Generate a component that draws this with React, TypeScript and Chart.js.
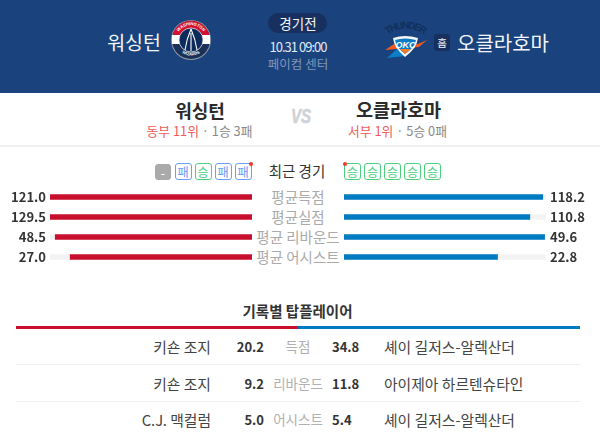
import React, { useEffect, useRef } from "react";
import { Chart, registerables } from "chart.js";

Chart.register(...registerables);

const FONT = "'Noto Sans CJK KR', 'Noto Sans', sans-serif";
const RED = "#c8102e";
const BLUE = "#007ac1";
const TRACK = "#f3f3f3";

const statLabels = ["평균득점", "평균실점", "평균 리바운드", "평균 어시스트"];
const awayValues = ["121.0", "129.5", "48.5", "27.0"];
const homeValues = ["118.2", "110.8", "49.6", "22.8"];
const awayBarPct = [100, 100, 97.4, 90];
const homeBarPct = [98.4, 92, 99.3, 76];
const trackPct = [100, 100, 100, 100];

const awayForm = ["-", "패", "승", "패", "패"];
const homeForm = ["승", "승", "승", "승", "승"];

const topStats = ["득점", "리바운드", "어시스트"];
const awayPlayers = ["키숀 조지", "키숀 조지", "C.J. 맥컬럼"];
const awayTop = ["20.2", "9.2", "5.0"];
const homeTop = ["34.8", "11.8", "5.4"];
const homePlayers = ["셰이 길저스-알렉산더", "아이제아 하르텐슈타인", "셰이 길저스-알렉산더"];

type TProps = {
  x: number; y: number; size: number; color: string; align?: "left" | "right" | "center";
  bold?: boolean; children: React.ReactNode; style?: React.CSSProperties;
};

function T({ x, y, size, color, align = "center", bold, children, style }: TProps) {
  const tx = align === "center" ? "-50%" : align === "right" ? "-100%" : "0";
  return (
    <div
      style={{
        position: "absolute", left: x, top: y, transform: `translate(${tx}, -50%)`,
        fontSize: size, color, fontWeight: bold ? 700 : 400, whiteSpace: "nowrap",
        lineHeight: 1.05, fontFamily: FONT, ...style,
      }}
    >
      {children}
    </div>
  );
}

function Box({ x, v, dot }: { x: number; v: string; dot?: boolean }) {
  const win = v === "승";
  const none = v === "-";
  const c = none ? "#aaaaaa" : win ? "#4cd07d" : "#6aa0f5";
  return (
    <div
      style={{
        position: "absolute", left: x, top: none ? 164 : 163, width: none ? 16 : 17, height: none ? 16 : 17, boxSizing: "border-box",
        border: `1px solid ${c}`, borderRadius: 3, background: none ? c : "#fff",
        color: none ? "#fff" : c, fontSize: 12.5, lineHeight: "15px", textAlign: "center", fontFamily: FONT,
      }}
    >
      {v}
      {dot ? (
        <span style={{ position: "absolute", top: -2, right: -2, width: 4, height: 4, borderRadius: 2, background: "#f0392b" }} />
      ) : null}
    </div>
  );
}

function BarChart({ values, pct, color, left, width, side }: { values: string[]; pct: number[]; color: string; left: number; width: number; side: "left" | "right" }) {
  const ref = useRef<HTMLCanvasElement>(null);
  useEffect(() => {
    const chart = new Chart(ref.current!, {
      type: "bar",
      data: {
        labels: statLabels,
        datasets: [
          { data: pct, backgroundColor: color, barThickness: 5, grouped: false, order: 1 },
          { data: trackPct, backgroundColor: TRACK, barThickness: 5, grouped: false, order: 2 },
        ],
      },
      options: {
        indexAxis: "y",
        animation: false,
        responsive: false,
        layout: { padding: 0, autoPadding: false },
        plugins: { legend: { display: false }, tooltip: { enabled: false } },
        scales: {
          x: { display: false, min: 0, max: 100, reverse: side === "left" },
          y: {
            position: side,
            grid: { display: false, drawTicks: false },
            border: { display: false },
            afterFit: (s: any) => { s.width = 54; s.paddingTop = 0; s.paddingBottom = 0; },
            ticks: {
              padding: 4,
              color: "#333",
              font: { family: FONT, size: 13, weight: "bold" },
              callback: (_v: any, i: number) => values[i],
            },
          },
        },
      },
    } as any);
    return () => chart.destroy();
  }, []);
  return <canvas ref={ref} width={width} height={80} style={{ position: "absolute", left, top: 187, display: "block" }} />;
}

function WizardsLogo() {
  return (
    <svg style={{ position: "absolute", left: 170, top: 19 }} width="42" height="42" viewBox="0 0 42 42">
      <circle cx="21" cy="21" r="20" fill="#8d97a6" />
      <circle cx="21" cy="21" r="19" fill="#1a3157" />
      <path d="M2.6 16 A19 19 0 0 1 39.4 16 Z" fill="#d3122f" />
      <rect x="2" y="16" width="38" height="9" fill="#ffffff" />
      <circle cx="21" cy="21" r="12" fill="#0c2a5a" stroke="#ffffff" strokeWidth="0.7" />
      <path d="M21 10 C18 17 16 24 15 31 M21 10 C24 17 26 24 27 31 M21 14 L21 32" fill="none" stroke="#ffffff" strokeWidth="1.1" />
      <path id="w-top" d="M6.5 18 A14.8 14.8 0 0 1 35.5 18" fill="none" />
      <text fontSize="4.2" fontWeight="700" fill="#fff" fontFamily="'Liberation Sans'" textAnchor="middle"><textPath href="#w-top" startOffset="50%">WASHINGTON</textPath></text>
      <path id="w-bot" d="M9 32 Q21 41 33 32" fill="none" />
      <text fontSize="4" fontWeight="700" fill="#fff" fontFamily="'Liberation Sans'" textAnchor="middle"><textPath href="#w-bot" startOffset="50%">WIZARDS</textPath></text>
    </svg>
  );
}

function ThunderLogo() {
  return (
    <svg style={{ position: "absolute", left: 384, top: 18, overflow: "visible" }} width="44" height="42" viewBox="0 0 44 42">
      <path id="t-arc" d="M1 18 Q22 3 43 18" fill="none" />
      <text fontSize="10" fontWeight="700" fill="#11305c" fontFamily="'Liberation Sans Narrow', 'Liberation Sans'" textAnchor="middle" textLength="40"><textPath href="#t-arc" startOffset="50%">THUNDER</textPath></text>
      <path d="M1 32 L10 26 L34 26 L43 22 L35 29 Z" fill="#ef5a22" />
      <path d="M3 40 L13 31 L21 38 Z" fill="#0a7dc4" />
      <path d="M9 20 Q21 16 34 20 Q33 30 21 39 Q10 30 9 20 Z" fill="#f4f6f8" />
      <path d="M11 22 Q21 19 32 22 Q31 29 21 36 Q12 29 11 22 Z" fill="#0a7dc4" />
      <path d="M16 31 L27 31 L21 36 Z" fill="#ef7d2a" />
      <text x="21.5" y="29.5" fontSize="9" fontWeight="700" fontStyle="italic" fill="#fff" fontFamily="'Liberation Sans'" textAnchor="middle">OKC</text>
    </svg>
  );
}

export default function App() {
  return (
    <div style={{ position: "absolute", left: 0, top: 0, width: 600, height: 441, overflow: "hidden", background: "#fff", fontFamily: FONT }}>
      <div style={{ position: "absolute", left: 0, top: 0, width: 600, height: 93, background: "#1a427d" }} />
      <T x={161} y={42} size={19.5} color="#f2f5fa" align="right">워싱턴</T>
      <WizardsLogo />
      <div style={{ position: "absolute", left: 268, top: 13, width: 59, height: 20, borderRadius: 10, background: "#17305f" }} />
      <T x={298} y={23} size={13.5} color="#f2f5fa">경기전</T>
      <T x={298} y={47} size={13} color="#e3e9f2" style={{ letterSpacing: -1 }}>10.31 09:00</T>
      <T x={298} y={64} size={12.5} color="#8197b9">페이컴 센터</T>
      <ThunderLogo />
      <div style={{ position: "absolute", left: 434, top: 34, width: 16, height: 17, borderRadius: 3, background: "#17305f" }} />
      <T x={442} y={43} size={10.5} color="#f2f5fa">홈</T>
      <T x={457} y={42} size={20} color="#f2f5fa" align="left">오클라호마</T>

      <T x={200} y={110} size={18} color="#2b2b2b" bold>워싱턴</T>
      <T x={398.5} y={110} size={18.5} color="#2b2b2b" bold>오클라호마</T>
      <T x={301} y={116} size={21} color="#cfd2d6" bold style={{ fontStyle: "italic", fontFamily: "'Liberation Sans'", transform: "translate(-50%,-50%) scaleX(0.72)", WebkitTextStroke: "0.6px #cfd2d6" }}>VS</T>
      <T x={199.5} y={131} size={12.8} color="#888"><span style={{ color: "#f25a5a" }}>동부 11위</span> · 1승 3패</T>
      <T x={397.5} y={131} size={12.8} color="#888"><span style={{ color: "#f25a5a" }}>서부 1위</span> · 5승 0패</T>
      <div style={{ position: "absolute", left: 0, top: 145, width: 600, height: 2, background: "#f1f1f1" }} />

      <T x={297} y={171} size={14.5} color="#333">최근 경기</T>
      {awayForm.map((v, i) => <Box key={i} x={i === 0 ? 155 : 154.5 + i * 20} v={v} dot={i === 4} />)}
      {homeForm.map((v, i) => <Box key={i} x={344 + i * 20} v={v} />)}
      <span style={{ position: "absolute", left: 343, top: 162, width: 4, height: 4, borderRadius: 2, background: "#f0392b" }} />

      <BarChart values={awayValues} pct={awayBarPct} color={RED} left={-4} width={256} side="left" />
      <BarChart values={homeValues} pct={homeBarPct} color={BLUE} left={344} width={256} side="right" />
      {statLabels.map((l, i) => (
        <T key={l} x={298} y={197 + i * 20} size={14.5} color="#aaaaaa">{l}</T>
      ))}

      <T x={297.5} y={311} size={14.5} color="#333" bold>기록별 탑플레이어</T>
      <div style={{ position: "absolute", left: 16, top: 326, width: 282, height: 3, background: RED }} />
      <div style={{ position: "absolute", left: 298, top: 326, width: 282, height: 3, background: BLUE }} />
      <div style={{ position: "absolute", left: 16, top: 364, width: 564, height: 1, background: "#efefef" }} />
      <div style={{ position: "absolute", left: 16, top: 401, width: 564, height: 1, background: "#efefef" }} />
      {topStats.map((s, i) => {
        const y = 347 + i * 36.5;
        return (
          <React.Fragment key={s}>
            <T x={211} y={y} size={14.8} color="#444" align="right">{awayPlayers[i]}</T>
            <T x={264} y={y} size={13} color="#333" align="right" bold>{awayTop[i]}</T>
            <T x={298} y={y - 1} size={13.5} color="#b0b0b0">{s}</T>
            <T x={332} y={y} size={13} color="#333" align="left" bold>{homeTop[i]}</T>
            <T x={384} y={y} size={14.8} color="#444" align="left">{homePlayers[i]}</T>
          </React.Fragment>
        );
      })}
    </div>
  );
}
